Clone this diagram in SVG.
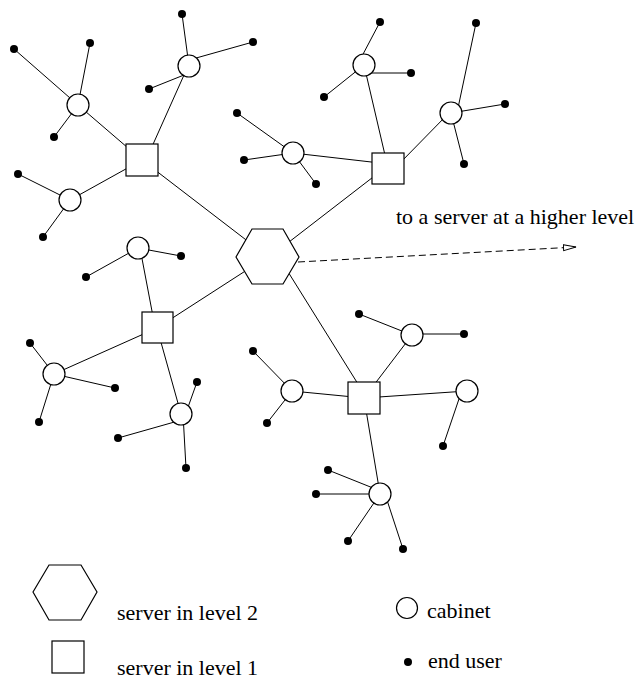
<svg xmlns="http://www.w3.org/2000/svg" width="640" height="685" viewBox="0 0 640 685">
<style>
.ln{stroke:#000;stroke-width:1;fill:none}
.dash{stroke:#000;stroke-width:1;fill:none;stroke-dasharray:7 4}
.cab{fill:#fff;stroke:#000;stroke-width:1.2}
.usr{fill:#000}
.srv{fill:#fff;stroke:#000;stroke-width:1.2}
.txt{font-family:"Liberation Serif","Times New Roman",serif;font-size:22px;fill:#000}
</style>
<defs>
<marker id="arr" markerUnits="userSpaceOnUse" markerWidth="16" markerHeight="10" refX="13" refY="3.5" orient="auto">
<path d="M0.5,0.5 L13,3.5 L0.5,6.5 z" fill="#fff" stroke="#000" stroke-width="1" stroke-dasharray="none"/>
</marker>
</defs>

<g id="connectors" class="ln">
<!-- hexagon to level-1 servers -->
<line x1="267" y1="256" x2="142" y2="160"/>
<line x1="267" y1="259" x2="390" y2="164"/>
<line x1="267" y1="257" x2="157" y2="328"/>
<line x1="285" y1="267" x2="363" y2="392"/>
<!-- S1 -->
<line x1="142" y1="160" x2="78" y2="105"/>
<line x1="146" y1="160" x2="184" y2="75"/>
<line x1="142" y1="160" x2="70" y2="200"/>
<line x1="78" y1="105" x2="14" y2="49"/>
<line x1="78" y1="105" x2="90" y2="43"/>
<line x1="78" y1="105" x2="54" y2="137"/>
<line x1="189" y1="66" x2="182" y2="14"/>
<line x1="189" y1="60" x2="253" y2="42"/>
<line x1="184" y1="75" x2="149" y2="89"/>
<line x1="70" y1="200" x2="18" y2="174"/>
<line x1="70" y1="200" x2="43" y2="237"/>
<!-- S2 -->
<line x1="364" y1="65" x2="388" y2="168"/>
<line x1="398" y1="165" x2="448" y2="114"/>
<line x1="293" y1="153" x2="380" y2="163"/>
<line x1="361" y1="58" x2="380" y2="22"/>
<line x1="370" y1="73" x2="411" y2="73"/>
<line x1="364" y1="65" x2="324" y2="97"/>
<line x1="458" y1="108" x2="476" y2="23"/>
<line x1="451" y1="113" x2="505" y2="104"/>
<line x1="451" y1="113" x2="464" y2="164"/>
<line x1="293" y1="153" x2="237" y2="113"/>
<line x1="293" y1="153" x2="244" y2="160"/>
<line x1="293" y1="153" x2="316" y2="184"/>
<!-- S3 -->
<line x1="140" y1="248" x2="155" y2="327"/>
<line x1="157" y1="328" x2="54" y2="374"/>
<line x1="157" y1="328" x2="181" y2="414"/>
<line x1="138" y1="248" x2="181" y2="256"/>
<line x1="138" y1="248" x2="86" y2="277"/>
<line x1="54" y1="374" x2="30" y2="343"/>
<line x1="54" y1="374" x2="115" y2="388"/>
<line x1="54" y1="374" x2="39" y2="422"/>
<line x1="187" y1="410" x2="197" y2="382"/>
<line x1="178" y1="421" x2="118" y2="438"/>
<line x1="183" y1="414" x2="186" y2="468"/>
<!-- S4 -->
<line x1="364" y1="398" x2="412" y2="335"/>
<line x1="364" y1="398" x2="292" y2="391"/>
<line x1="364" y1="398" x2="467" y2="391"/>
<line x1="364" y1="398" x2="380" y2="494"/>
<line x1="412" y1="335" x2="359" y2="314"/>
<line x1="412" y1="334" x2="464" y2="334"/>
<line x1="292" y1="391" x2="253" y2="351"/>
<line x1="292" y1="391" x2="267" y2="423"/>
<line x1="461" y1="393" x2="443" y2="446"/>
<line x1="378" y1="490" x2="328" y2="470"/>
<line x1="375" y1="494" x2="316" y2="494"/>
<line x1="380" y1="494" x2="348" y2="541"/>
<line x1="385" y1="494" x2="403" y2="549"/>
<!-- to higher level -->
<line class="dash" x1="298" y1="262" x2="576" y2="247" marker-end="url(#arr)"/>
</g>

<g id="server-l2">
<polygon class="srv" points="236,257 252,229 283,229 299,257 283,284 252,284"/>
</g>
<g id="server-l1-a"><rect class="srv" x="126" y="144" width="32" height="32"/></g>
<g id="server-l1-b"><rect class="srv" x="372" y="153" width="32" height="31"/></g>
<g id="server-l1-c"><rect class="srv" x="142" y="312" width="31" height="31"/></g>
<g id="server-l1-d"><rect class="srv" x="348" y="382" width="32" height="32"/></g>

<g id="cabinets">
<g id="cab-1a"><circle class="cab" cx="78" cy="105" r="11"/></g>
<g id="cab-1b"><circle class="cab" cx="189" cy="66" r="11"/></g>
<g id="cab-1c"><circle class="cab" cx="70" cy="200" r="11"/></g>
<g id="cab-2a"><circle class="cab" cx="364" cy="65" r="11"/></g>
<g id="cab-2b"><circle class="cab" cx="451" cy="113" r="11"/></g>
<g id="cab-2c"><circle class="cab" cx="293" cy="153" r="11"/></g>
<g id="cab-3a"><circle class="cab" cx="138" cy="248" r="11"/></g>
<g id="cab-3b"><circle class="cab" cx="54" cy="374" r="11"/></g>
<g id="cab-3c"><circle class="cab" cx="181" cy="414" r="11"/></g>
<g id="cab-4a"><circle class="cab" cx="412" cy="335" r="11"/></g>
<g id="cab-4b"><circle class="cab" cx="292" cy="391" r="11"/></g>
<g id="cab-4c"><circle class="cab" cx="467" cy="391" r="11"/></g>
<g id="cab-4d"><circle class="cab" cx="380" cy="494" r="11"/></g>
</g>

<g id="users" class="usr">
<circle cx="14" cy="49" r="4"/><circle cx="90" cy="43" r="4"/><circle cx="54" cy="137" r="4"/>
<circle cx="182" cy="14" r="4"/><circle cx="253" cy="42" r="4"/><circle cx="149" cy="89" r="4"/>
<circle cx="18" cy="174" r="4"/><circle cx="43" cy="237" r="4"/>
<circle cx="380" cy="22" r="4"/><circle cx="411" cy="73" r="4"/><circle cx="324" cy="97" r="4"/>
<circle cx="476" cy="23" r="4"/><circle cx="505" cy="104" r="4"/><circle cx="464" cy="164" r="4"/>
<circle cx="237" cy="113" r="4"/><circle cx="244" cy="160" r="4"/><circle cx="316" cy="184" r="4"/>
<circle cx="181" cy="256" r="4"/><circle cx="86" cy="277" r="4"/>
<circle cx="30" cy="343" r="4"/><circle cx="115" cy="388" r="4"/><circle cx="39" cy="422" r="4"/>
<circle cx="197" cy="382" r="4"/><circle cx="118" cy="438" r="4"/><circle cx="186" cy="468" r="4"/>
<circle cx="359" cy="314" r="4"/><circle cx="464" cy="334" r="4"/>
<circle cx="253" cy="351" r="4"/><circle cx="267" cy="423" r="4"/>
<circle cx="443" cy="446" r="4"/>
<circle cx="328" cy="470" r="4"/><circle cx="316" cy="494" r="4"/><circle cx="348" cy="541" r="4"/><circle cx="403" cy="549" r="4"/>
</g>

<g id="label-higher">
<text class="txt" x="396" y="224">to a server at a higher level</text>
</g>

<g id="legend">
<g id="legend-l2">
<polygon class="srv" points="33,592 49,565 81,565 97,592 81,620 49,620"/>
<text class="txt" x="117" y="620">server in level 2</text>
</g>
<g id="legend-l1">
<rect class="srv" x="52" y="641" width="32" height="32"/>
<text class="txt" x="117" y="675">server in level 1</text>
</g>
<g id="legend-cab">
<circle class="cab" cx="407" cy="608" r="10.5"/>
<text class="txt" x="427" y="618">cabinet</text>
</g>
<g id="legend-user">
<circle class="usr" cx="408" cy="662" r="4"/>
<text class="txt" x="428" y="668">end user</text>
</g>
</g>
</svg>
